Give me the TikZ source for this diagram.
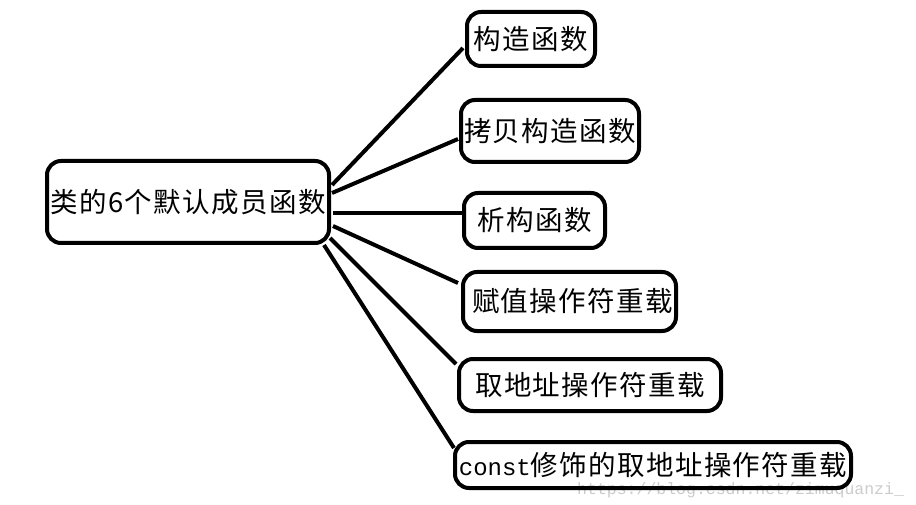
\documentclass[tikz,border=0pt]{standalone}
\usepackage{fontspec}
\usetikzlibrary{calc}
\newfontfamily\cjkfont[LetterSpace=5]{Noto Sans CJK SC}
\newfontfamily\monofont{Liberation Mono}
\begin{document}
\begin{tikzpicture}[x=1pt,y=-1pt,
  member/.style={draw=black,line width=4pt,rounded corners=14pt,inner sep=0pt,
    font=\cjkfont\fontsize{27.5}{30}\selectfont},
  link/.style={draw=black,line width=4pt},
  blogaddr/.style={text=black!20,font=\monofont\fontsize{16.5}{18}\selectfont,inner sep=0pt}]
\useasboundingbox[fill=white] (0,0) rectangle (916,505);

% blog address printed faintly along the bottom edge
\node[blogaddr,anchor=west] (addr) at (577,490) {https://blog.csdn.net/zimuquanzi\_};

% central node and its six members
\node[member,minimum width=282pt,minimum height=82pt] (main) at (188,202) {类的6个默认成员函数};
\node[member,minimum width=128pt,minimum height=54pt] (ctor) at (531,39) {构造函数};
\node[member,minimum width=178pt,minimum height=62pt] (copy) at (550,131) {拷贝构造函数};
\node[member,minimum width=141pt,minimum height=55pt] (dtor) at (534.5,220.5) {析构函数};
\node[member,minimum width=213pt,minimum height=59pt] (assign) at (569.5,301.5) {\hspace*{6pt}赋值操作符重载};
\node[member,minimum width=262pt,minimum height=52pt] (addrop) at (590,385) {取地址操作符重载};
\node[member,minimum width=396pt,minimum height=46pt] (caddr) at (653,465) {{\monofont\fontsize{24}{26}\selectfont const}修饰的取地址操作符重载};

% connectors fanning out from the right side of the central node
\draw[link] ($(main.east)+(1,-17)$) -- ($(ctor.west)+(-2,9)$);
\draw[link] ($(main.east)+(1,-9)$) -- ($(copy.west)+(-1,8)$);
\draw[link] ($(main.east)+(2,11)$) -- ($(dtor.west)+(1,-7.5)$);
\draw[link] ($(main.east)+(2,24)$) -- ($(assign.west)+(-3,-18.5)$);
\draw[link] ($(main.east)+(-1,36)$) -- ($(addrop.west)+(-1,-21)$);
\draw[link] ($(main.east)+(-7,43)$) -- ($(caddr.west)+(1,-17)$);
\end{tikzpicture}
\end{document}
